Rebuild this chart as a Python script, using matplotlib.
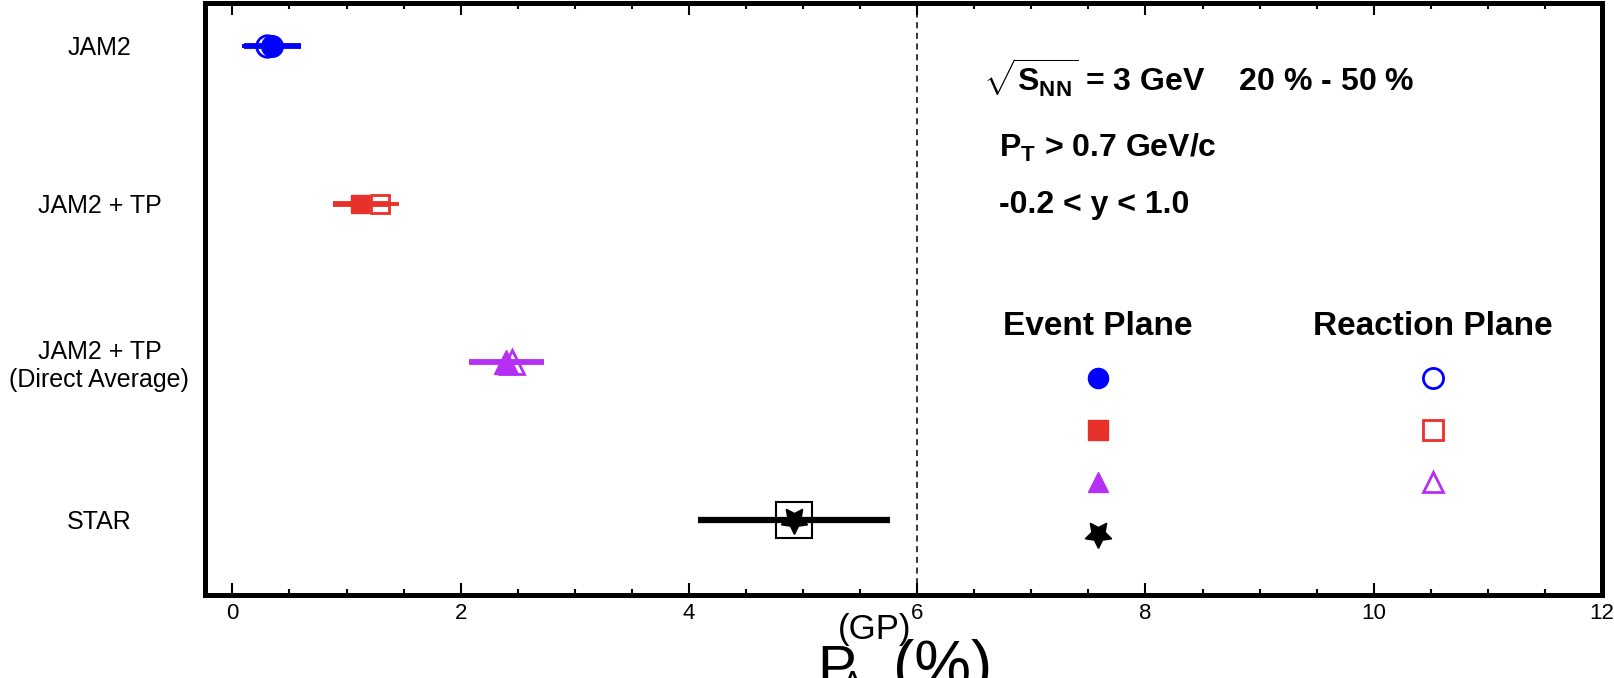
import matplotlib
matplotlib.use('Agg')
import matplotlib.pyplot as plt
from matplotlib.lines import Line2D
import numpy as np

plt.rcParams['font.family'] = ['Liberation Sans', 'DejaVu Sans']
plt.rcParams['mathtext.fontset'] = 'custom'
plt.rcParams['mathtext.rm'] = 'Liberation Sans'
plt.rcParams['mathtext.it'] = 'Liberation Sans:italic'
plt.rcParams['mathtext.bf'] = 'Liberation Sans:bold'

rows = ['JAM2', 'JAM2 + TP', 'JAM2 + TP\n(Direct Average)', 'STAR']

# JAM2 models: event plane (filled) and reaction plane (open)
ep_val = [0.35, 1.12, 2.40]
ep_err = [0.25, 0.24, 0.33]
rp_val = [0.30, 1.29, 2.45]
rp_err = [0.22, 0.17, 0.26]
model_colors = ['#0000ff', '#e8312a', '#b52ff5']
model_markers = ['o', 's', '^']
model_ms = [15.5, 12.5, 17]

# STAR measurement
star_val = 4.92
star_err = 0.84

STAR_MARK = (5, 1, 180)   # point-down star

fig = plt.figure(figsize=(16.14, 6.78), dpi=100)
ax = fig.add_axes([0.127, 0.1224, 0.8656, 0.8732])

ypos = np.arange(len(rows))

for i in range(3):
    c = model_colors[i]
    ax.errorbar(rp_val[i], ypos[i], xerr=rp_err[i], fmt=model_markers[i], ms=model_ms[i],
                mfc='none', mec=c, mew=2, color=c, elinewidth=2.8, capsize=0, zorder=3)
    ax.errorbar(ep_val[i], ypos[i], xerr=ep_err[i], fmt=model_markers[i], ms=model_ms[i],
                mfc=c, mec=c, color=c, elinewidth=4.2, capsize=0, zorder=4)

ax.errorbar(star_val, ypos[3], xerr=star_err, fmt='none', color='black',
            elinewidth=4.5, capsize=0, zorder=3)
ax.plot(star_val, ypos[3], ls='none', marker='s', ms=26, mfc='none', mec='black', mew=1.5, zorder=4)
ax.plot(star_val, ypos[3], ls='none', marker=STAR_MARK, ms=20, color='black', zorder=5)

ax.axvline(6, color='black', lw=1.1, ls=(0, (4, 3)), zorder=1)

ax.set_xlim(-0.24, 12)
ax.set_ylim(3.475, -0.27)
ax.set_xticks([0, 2, 4, 6, 8, 10, 12])
ax.set_xticks(np.arange(0, 12.01, 0.5), minor=True)
ax.tick_params(axis='x', which='both', direction='in', top=True, labelsize=16, pad=6)
ax.tick_params(axis='x', which='major', length=8.6, width=1.5)
ax.tick_params(axis='x', which='minor', length=4.3, width=1.5)

ax.set_yticks(ypos)
ax.set_yticklabels(rows, fontsize=18)
ax.tick_params(axis='y', length=0, pad=76)
for lab in ax.get_yticklabels():
    lab.set_ha('center')
    lab.set_multialignment('center')
    lab.set_va('center_baseline')

for sp in ax.spines.values():
    sp.set_linewidth(3.6)

# x axis title, ROOT style: P with (GP) raised high and Lambda below
lab_kw = dict(transform=ax.transAxes, va='baseline', ha='left', clip_on=False)
ax.text(0.438, -0.154, 'P', fontsize=42, **lab_kw)
ax.text(0.453, -0.074, '(GP)', fontsize=25, **lab_kw)
ax.text(0.455, -0.169, 'Λ', fontsize=25, **lab_kw)
ax.text(0.4925, -0.154, '(%)', fontsize=46, **lab_kw)

tkw = dict(transform=ax.transAxes, fontsize=23, fontweight='bold', va='baseline', ha='left')
ax.text(0.557, 0.850, r'$\sqrt{\mathbf{S}_{\mathbf{NN}}}$ = 3 GeV    20 % - 50 %', **tkw)
ax.text(0.568, 0.740, r'$\mathbf{P}_{\mathbf{T}}$ > 0.7 GeV/c', **tkw)
ax.text(0.568, 0.645, '-0.2 < y < 1.0', **tkw)

# marker legends
ep_handles = [Line2D([], [], ls='none', marker=m, ms=14.5, mfc=c, mec=c)
              for m, c in zip(model_markers, model_colors)]
ep_handles.append(Line2D([], [], ls='none', marker=STAR_MARK, ms=20, color='black'))
rp_handles = [Line2D([], [], ls='none', marker=m, ms=14.5, mfc='none', mec=c, mew=2)
              for m, c in zip(model_markers, model_colors)]

lkw = dict(loc='upper center', frameon=False, handlelength=1.0, handletextpad=0,
           borderpad=0, labelspacing=0.93, fontsize=20,
           title_fontproperties={'weight': 'bold', 'size': 24})
leg1 = ax.legend(ep_handles, [''] * len(ep_handles), title='Event Plane',
                 bbox_to_anchor=(0.639, 0.503), **lkw)
ax.add_artist(leg1)
ax.legend(rp_handles, [''] * len(rp_handles), title='Reaction Plane',
          bbox_to_anchor=(0.879, 0.503), **lkw)

fig.savefig('out.png', dpi=100)
